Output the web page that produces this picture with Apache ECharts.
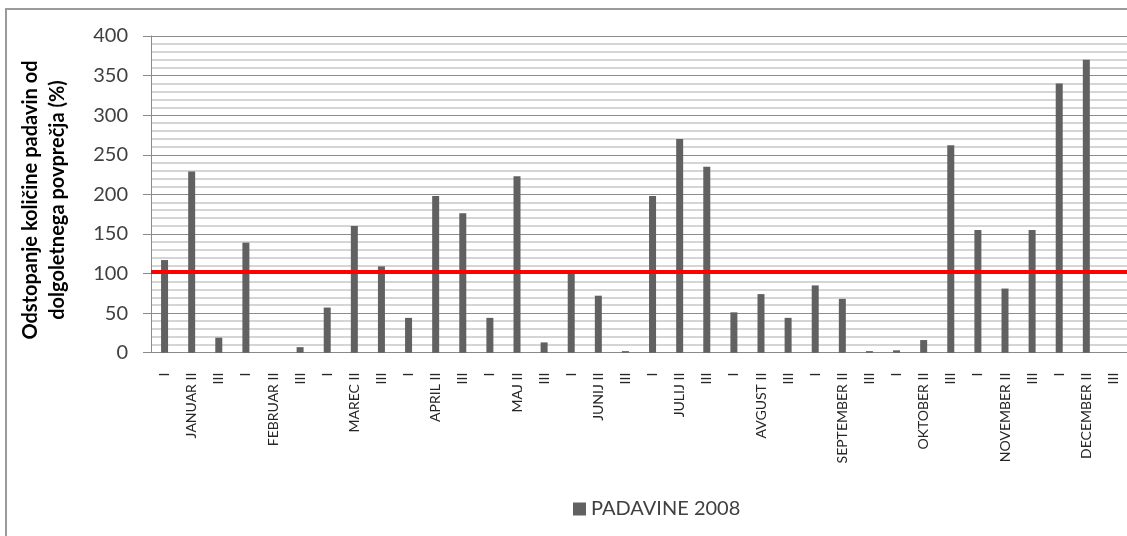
<!DOCTYPE html>
<html>
<head>
<meta charset="utf-8">
<script src="https://cdn.jsdelivr.net/npm/echarts@6/dist/echarts.min.js"></script>
<style>
  html, body { margin: 0; padding: 0; background: #ffffff; }
  #chart { width: 1127px; height: 536px; }
</style>
</head>
<body>
<div id="chart"></div>
<script>
// Ten-day periods (dekade) of 2008, three per month
const categories = [
  'I', 'JANUAR II', 'III',
  'I', 'FEBRUAR II', 'III',
  'I', 'MAREC II', 'III',
  'I', 'APRIL II', 'III',
  'I', 'MAJ II', 'III',
  'I', 'JUNIJ II', 'III',
  'I', 'JULIJ II', 'III',
  'I', 'AVGUST II', 'III',
  'I', 'SEPTEMBER II', 'III',
  'I', 'OKTOBER II', 'III',
  'I', 'NOVEMBER II', 'III',
  'I', 'DECEMBER II', 'III'
];

// Precipitation as % of the long-term average
const padavine2008 = [
  117, 229, 19,
  139, 0, 7,
  57, 160, 109,
  44, 198, 176,
  44, 223, 13,
  100, 72, 2,
  198, 270, 235,
  51, 74, 44,
  85, 68, 2,
  3, 16, 262,
  155, 81, 155,
  340, 370, 0
];

// Reference level (long-term average)
const referenceLevel = 102;

const yTicks = { min: 0, max: 400, step: 50 };

const seriesName = 'PADAVINE 2008';
const yTitle = 'Odstopanje količine padavin od\ndolgoletnega povprečja (%)';

const chart = echarts.init(document.getElementById('chart'), null, { renderer: 'canvas' });

const FONT = 'Lato, "Open Sans", "Liberation Sans", sans-serif';

chart.setOption({
  animation: false,
  backgroundColor: '#ffffff',
  textStyle: { fontFamily: FONT },
  graphic: [
    {
      type: 'rect',
      shape: { x: 6, y: 9, width: 1300, height: 700 },
      style: { fill: 'none', stroke: '#9a9a9a', lineWidth: 2 },
      silent: true,
      z: -10
    },
    {
      type: 'text',
      x: 44,
      y: 200,
      rotation: Math.PI / 2,
      style: {
        text: yTitle,
        fontFamily: FONT,
        fontSize: 20,
        fontWeight: 'bold',
        lineHeight: 27,
        fill: '#000000',
        textAlign: 'center',
        textVerticalAlign: 'middle'
      },
      silent: true
    }
  ],
  legend: {
    data: [seriesName],
    left: 568,
    top: 494,
    itemWidth: 13,
    itemHeight: 13,
    itemGap: 10,
    icon: 'rect',
    textStyle: { fontSize: 20, color: '#404040', fontFamily: FONT }
  },
  grid: {
    left: 151,
    top: 36,
    width: 986,
    height: 316.7,
    containLabel: false
  },
  xAxis: {
    type: 'category',
    data: categories,
    boundaryGap: true,
    axisLine: { show: true, lineStyle: { color: '#8a8a8a', width: 1 } },
    axisTick: { show: false },
    axisLabel: {
      interval: 0,
      rotate: 90,
      margin: 20,
      fontSize: 14,
      color: '#262626',
      fontFamily: FONT
    }
  },
  yAxis: {
    type: 'value',
    min: yTicks.min,
    max: yTicks.max,
    interval: yTicks.step,
    axisLine: { show: true, lineStyle: { color: '#8a8a8a', width: 1 } },
    axisTick: { show: true, length: 8, lineStyle: { color: '#8a8a8a' } },
    axisLabel: {
      margin: 23,
      fontSize: 20,
      color: '#404040',
      fontFamily: FONT
    },
    splitLine: { show: true, lineStyle: { color: '#8c8c8c', width: 1 } },
    minorTick: { show: false, splitNumber: 5 },
    minorSplitLine: { show: true, lineStyle: { color: '#c8c8c8', width: 1.5 } }
  },
  series: [
    {
      name: seriesName,
      type: 'bar',
      data: padavine2008,
      barWidth: 7,
      itemStyle: { color: '#616161' },
      markLine: {
        silent: true,
        symbol: 'none',
        label: { show: false },
        lineStyle: { color: '#ff0000', width: 4, type: 'solid' },
        data: [{ yAxis: referenceLevel }]
      }
    }
  ]
});
</script>
</body>
</html>
